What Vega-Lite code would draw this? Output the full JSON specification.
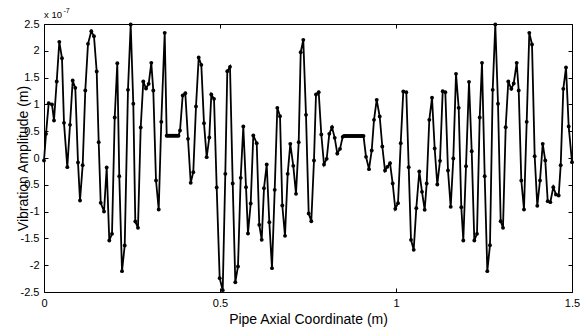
{
  "$schema": "https://vega.github.io/schema/vega-lite/v6.json",
  "width": 528,
  "height": 268,
  "autosize": {"type": "none"},
  "padding": {"left": 44, "top": 24, "right": 12, "bottom": 37},
  "background": "white",
  "config": {
    "view": {"stroke": null},
    "axis": {
      "domainColor": "black", "domainWidth": 1, "tickColor": "black", "tickWidth": 1,
      "labelColor": "black", "titleColor": "black",
      "labelFont": "Liberation Sans", "titleFont": "Liberation Sans",
      "labelFontSize": 11, "titleFontSize": 14, "titleFontWeight": "normal",
      "grid": false, "tickSize": -4, "labelPadding": 9,
      "labelFlush": false, "labelOverlap": false
    }
  },
  "datasets": {
    "vib": [
      {"coord":0.0000,"amp":-0.047},{"coord":0.0057,"amp":0.451},{"coord":0.0134,"amp":1.023},{"coord":0.0227,"amp":0.998},{"coord":0.0284,"amp":0.700},{"coord":0.0361,"amp":1.427},{"coord":0.0435,"amp":2.167},{"coord":0.0511,"amp":1.863},{"coord":0.0568,"amp":0.656},{"coord":0.0662,"amp":-0.171},{"coord":0.0739,"amp":0.619},{"coord":0.0815,"amp":1.446},{"coord":0.0889,"amp":1.309},{"coord":0.0966,"amp":-0.084},{"coord":0.1023,"amp":-0.793},{"coord":0.1099,"amp":-0.134},{"coord":0.1173,"amp":1.259},{"coord":0.1250,"amp":2.130},{"coord":0.1344,"amp":2.366},{"coord":0.1420,"amp":2.273},{"coord":0.1497,"amp":1.614},{"coord":0.1554,"amp":0.295},{"coord":0.1611,"amp":-0.837},{"coord":0.1705,"amp":-0.998},{"coord":0.1781,"amp":-0.177},{"coord":0.1855,"amp":-1.539},{"coord":0.1932,"amp":-1.415},{"coord":0.2009,"amp":0.756},{"coord":0.2082,"amp":1.769},{"coord":0.2139,"amp":-0.339},{"coord":0.2216,"amp":-2.111},{"coord":0.2293,"amp":-1.633},{"coord":0.2386,"amp":1.272},{"coord":0.2463,"amp":2.491},{"coord":0.2537,"amp":1.011},{"coord":0.2594,"amp":-1.185},{"coord":0.2670,"amp":-1.303},{"coord":0.2747,"amp":0.569},{"coord":0.2821,"amp":1.427},{"coord":0.2898,"amp":1.297},{"coord":0.2974,"amp":1.384},{"coord":0.3048,"amp":1.775},{"coord":0.3105,"amp":1.259},{"coord":0.3182,"amp":-0.420},{"coord":0.3259,"amp":-0.961},{"coord":0.3332,"amp":0.675},{"coord":0.3429,"amp":2.335},{"coord":0.3486,"amp":0.414},
      {"coord":0.3523,"amp":0.414},{"coord":0.3565,"amp":0.414},{"coord":0.3608,"amp":0.414},{"coord":0.3651,"amp":0.414},{"coord":0.3693,"amp":0.414},{"coord":0.3736,"amp":0.414},{"coord":0.3778,"amp":0.414},{"coord":0.3821,"amp":0.414},
      {"coord":0.3864,"amp":0.513},{"coord":0.3940,"amp":1.166},{"coord":0.4014,"amp":1.210},{"coord":0.4091,"amp":0.358},{"coord":0.4168,"amp":-0.463},{"coord":0.4241,"amp":-0.264},{"coord":0.4318,"amp":0.961},{"coord":0.4395,"amp":1.875},{"coord":0.4469,"amp":1.738},{"coord":0.4545,"amp":0.650},{"coord":0.4622,"amp":0.016},{"coord":0.4696,"amp":0.382},{"coord":0.4753,"amp":1.185},{"coord":0.4830,"amp":1.104},{"coord":0.4906,"amp":-0.550},{"coord":0.4991,"amp":-2.242},{"coord":0.5077,"amp":-2.466},{"coord":0.5151,"amp":-0.295},{"coord":0.5207,"amp":1.620},{"coord":0.5284,"amp":1.701},{"coord":0.5361,"amp":-0.476},{"coord":0.5435,"amp":-2.317},{"coord":0.5511,"amp":-2.024},{"coord":0.5588,"amp":-0.370},{"coord":0.5662,"amp":0.588},{"coord":0.5739,"amp":-0.544},{"coord":0.5795,"amp":-1.409},{"coord":0.5872,"amp":-0.849},{"coord":0.5946,"amp":0.420},{"coord":0.6043,"amp":0.277},{"coord":0.6116,"amp":-1.247},{"coord":0.6185,"amp":-1.527},{"coord":0.6250,"amp":-0.563},{"coord":0.6327,"amp":-0.121},{"coord":0.6401,"amp":-1.197},{"coord":0.6477,"amp":-2.055},{"coord":0.6554,"amp":-0.594},{"coord":0.6628,"amp":0.936},{"coord":0.6705,"amp":0.780},{"coord":0.6770,"amp":-0.886},{"coord":0.6847,"amp":-1.452},{"coord":0.6923,"amp":-0.295},{"coord":0.6997,"amp":0.264},{"coord":0.7082,"amp":-0.146},{"coord":0.7159,"amp":-0.669},{"coord":0.7236,"amp":0.295},{"coord":0.7293,"amp":1.974},{"coord":0.7366,"amp":2.205},{"coord":0.7443,"amp":0.805},{"coord":0.7520,"amp":-1.036},{"coord":0.7594,"amp":-1.179},{"coord":0.7670,"amp":-0.047},{"coord":0.7727,"amp":1.185},{"coord":0.7804,"amp":1.228},{"coord":0.7878,"amp":0.438},{"coord":0.7955,"amp":-0.121},{"coord":0.8031,"amp":-0.016},{"coord":0.8105,"amp":0.451},{"coord":0.8182,"amp":0.575},{"coord":0.8259,"amp":0.376},{"coord":0.8332,"amp":0.084},{"coord":0.8409,"amp":0.171},{"coord":0.8486,"amp":0.395},
      {"coord":0.8523,"amp":0.41},{"coord":0.8565,"amp":0.41},{"coord":0.8608,"amp":0.41},{"coord":0.8651,"amp":0.41},{"coord":0.8693,"amp":0.41},{"coord":0.8736,"amp":0.41},{"coord":0.8778,"amp":0.41},{"coord":0.8821,"amp":0.41},{"coord":0.8864,"amp":0.41},{"coord":0.8906,"amp":0.41},{"coord":0.8949,"amp":0.41},{"coord":0.8991,"amp":0.41},{"coord":0.9034,"amp":0.41},{"coord":0.9077,"amp":0.41},
      {"coord":0.9148,"amp":0.022},{"coord":0.9233,"amp":-0.208},{"coord":0.9310,"amp":0.140},{"coord":0.9375,"amp":0.712},{"coord":0.9452,"amp":1.085},{"coord":0.9537,"amp":0.774},{"coord":0.9611,"amp":0.215},{"coord":0.9688,"amp":-0.233},{"coord":0.9753,"amp":-0.165},{"coord":0.9830,"amp":-0.096},{"coord":0.9906,"amp":-0.476},{"coord":0.9980,"amp":-0.948},{"coord":1.0057,"amp":-0.843},{"coord":1.0134,"amp":0.277},{"coord":1.0207,"amp":1.241},{"coord":1.0293,"amp":1.228},{"coord":1.0361,"amp":-0.171},{"coord":1.0426,"amp":-1.527},{"coord":1.0503,"amp":-1.713},{"coord":1.0577,"amp":-0.936},{"coord":1.0662,"amp":-0.252},{"coord":1.0739,"amp":-0.631},{"coord":1.0815,"amp":-0.967},{"coord":1.0872,"amp":-0.476},{"coord":1.0946,"amp":0.712},{"coord":1.1023,"amp":1.123},{"coord":1.1099,"amp":0.177},{"coord":1.1173,"amp":-0.494},{"coord":1.1250,"amp":-0.053},{"coord":1.1327,"amp":1.247},{"coord":1.1401,"amp":1.228},{"coord":1.1477,"amp":-0.233},{"coord":1.1554,"amp":-0.911},{"coord":1.1628,"amp":-0.009},{"coord":1.1705,"amp":1.570},{"coord":1.1781,"amp":0.936},{"coord":1.1855,"amp":-0.917},{"coord":1.1912,"amp":-1.539},{"coord":1.1989,"amp":-0.152},{"coord":1.2074,"amp":1.421},{"coord":1.2151,"amp":0.127},{"coord":1.2225,"amp":-1.539},{"coord":1.2301,"amp":-1.415},{"coord":1.2378,"amp":0.756},{"coord":1.2443,"amp":1.775},{"coord":1.2520,"amp":-0.339},{"coord":1.2594,"amp":-2.111},{"coord":1.2670,"amp":-1.626},{"coord":1.2747,"amp":1.272},{"coord":1.2821,"amp":2.491},{"coord":1.2898,"amp":1.011},{"coord":1.2974,"amp":-1.179},{"coord":1.3040,"amp":-1.303},{"coord":1.3116,"amp":0.575},{"coord":1.3190,"amp":1.427},{"coord":1.3276,"amp":1.290},{"coord":1.3344,"amp":1.390},{"coord":1.3429,"amp":1.775},{"coord":1.3486,"amp":1.259},{"coord":1.3560,"amp":-0.420},{"coord":1.3636,"amp":-0.961},{"coord":1.3713,"amp":0.675},{"coord":1.3787,"amp":2.335},{"coord":1.3864,"amp":2.118},{"coord":1.3940,"amp":0.034},{"coord":1.4014,"amp":-0.892},{"coord":1.4091,"amp":-0.420},{"coord":1.4168,"amp":0.264},{"coord":1.4241,"amp":-0.047},{"coord":1.4310,"amp":-0.805},{"coord":1.4384,"amp":-0.824},{"coord":1.4469,"amp":-0.544},{"coord":1.4545,"amp":-0.681},{"coord":1.4622,"amp":-0.700},{"coord":1.4679,"amp":-0.134},{"coord":1.4753,"amp":1.290},{"coord":1.4830,"amp":1.688},{"coord":1.4906,"amp":0.588},{"coord":1.5000,"amp":-0.078}
    ]
  },
  "layer": [
    {
      "data": {"name": "vib"},
      "mark": {"type": "line", "color": "black", "strokeWidth": 1.8, "point": {"filled": true, "size": 15, "color": "black"}},
      "encoding": {
        "x": {"field": "coord", "type": "quantitative",
              "scale": {"domain": [0, 1.5], "nice": false, "zero": false},
              "axis": {"orient": "bottom", "values": [0, 0.5, 1, 1.5], "labelExpr": "'' + datum.value",
                       "title": "Pipe Axial Coordinate (m)", "titleX": 264, "titleY": 31, "titleBaseline": "alphabetic", "titleAlign": "center"}},
        "y": {"field": "amp", "type": "quantitative",
              "scale": {"domain": [-2.5, 2.5], "nice": false, "zero": false},
              "axis": {"orient": "left", "values": [-2.5, -2, -1.5, -1, -0.5, 0, 0.5, 1, 1.5, 2, 2.5], "labelExpr": "'' + datum.value",
                       "title": "Vibration Amplitude (m)", "titleX": -17, "titleY": 134, "titleAngle": -90, "titleBaseline": "alphabetic", "titleAlign": "center"}}
      }
    },
    {
      "data": {"name": "vib"},
      "mark": {"type": "point", "opacity": 0},
      "encoding": {
        "x": {"field": "coord", "type": "quantitative",
              "axis": {"orient": "top", "values": [0, 0.5, 1, 1.5], "labels": false, "title": null}},
        "y": {"field": "amp", "type": "quantitative",
              "axis": {"orient": "right", "values": [-2.5, -2, -1.5, -1, -0.5, 0, 0.5, 1, 1.5, 2, 2.5], "labels": false, "title": null}}
      }
    },
    {
      "data": {"values": [{"t": "x 10"}]},
      "mark": {"type": "text", "align": "left", "baseline": "alphabetic", "dy": -6.5, "font": "Liberation Sans", "fontSize": 9.5, "color": "black"},
      "encoding": {
        "x": {"datum": 0, "type": "quantitative", "axis": null},
        "y": {"datum": 2.5, "type": "quantitative", "axis": null},
        "text": {"field": "t"}
      }
    },
    {
      "data": {"values": [{"t": "-7"}]},
      "mark": {"type": "text", "align": "left", "baseline": "alphabetic", "dx": 19.5, "dy": -11, "font": "Liberation Sans", "fontSize": 7, "color": "black"},
      "encoding": {
        "x": {"datum": 0, "type": "quantitative", "axis": null},
        "y": {"datum": 2.5, "type": "quantitative", "axis": null},
        "text": {"field": "t"}
      }
    }
  ],
  "resolve": {"axis": {"x": "independent", "y": "independent"}}
}
